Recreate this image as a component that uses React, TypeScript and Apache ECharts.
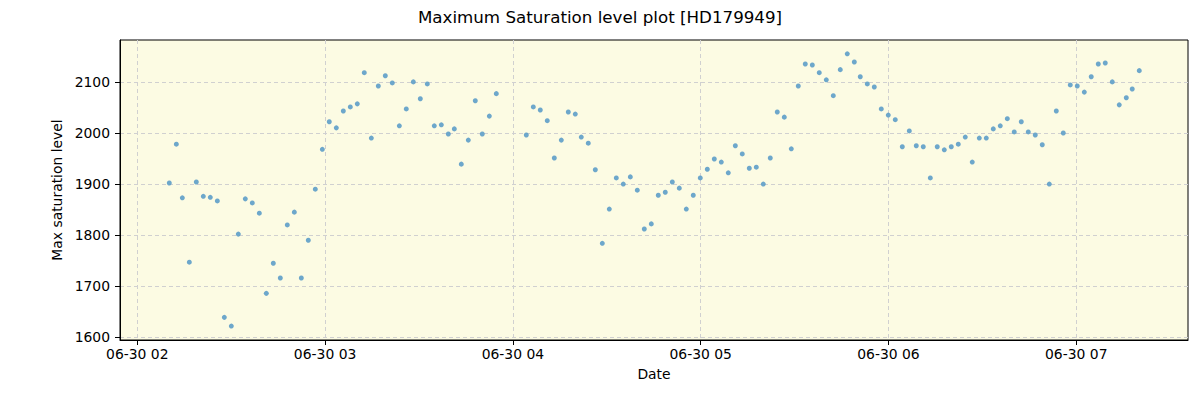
import React, { useEffect, useRef } from "react";
import * as echarts from "echarts";

const title = "Maximum Saturation level plot [HD179949]";
const dateLabel = "2021-06-30";

const times: string[] = [
  "02:10:13", "02:12:28", "02:14:23", "02:16:37", "02:18:51", "02:21:05", "02:23:19", "02:25:34",
  "02:27:48", "02:30:02", "02:32:16", "02:34:30", "02:36:44", "02:38:59", "02:41:13", "02:43:27",
  "02:45:41", "02:47:55", "02:50:10", "02:52:24", "02:54:38", "02:56:52", "02:59:07", "03:01:20",
  "03:03:35", "03:05:49", "03:08:03", "03:10:17", "03:12:31", "03:14:46", "03:17:00", "03:19:14",
  "03:21:28", "03:23:43", "03:25:56", "03:28:11", "03:30:25", "03:32:39", "03:34:53", "03:37:08",
  "03:39:22", "03:41:17", "03:43:31", "03:45:45", "03:47:59", "03:50:13", "03:52:28", "03:54:42",
  "04:04:17", "04:06:31", "04:08:45", "04:10:59", "04:13:14", "04:15:28", "04:17:42", "04:19:56",
  "04:21:51", "04:24:05", "04:26:20", "04:28:34", "04:30:48", "04:33:02", "04:35:16", "04:37:31",
  "04:39:45", "04:41:59", "04:44:13", "04:46:27", "04:48:41", "04:50:56", "04:53:10", "04:55:24",
  "04:57:38", "04:59:52", "05:02:07", "05:04:21", "05:06:35", "05:08:49", "05:11:04", "05:13:17",
  "05:15:32", "05:17:46", "05:20:00", "05:22:14", "05:24:28", "05:26:43", "05:28:57", "05:31:11",
  "05:33:25", "05:35:40", "05:37:53", "05:40:08", "05:42:22", "05:44:36", "05:46:50", "05:49:05",
  "05:50:59", "05:53:14", "05:55:28", "05:57:42", "05:59:56", "06:02:10", "06:04:25", "06:06:39",
  "06:08:53", "06:11:07", "06:13:22", "06:15:35", "06:17:50", "06:20:04", "06:22:18", "06:24:32",
  "06:26:46", "06:29:01", "06:31:15", "06:33:29", "06:35:43", "06:37:58", "06:40:11", "06:42:26",
  "06:44:40", "06:46:54", "06:49:08", "06:51:23", "06:53:37", "06:55:51", "06:58:05", "07:00:19",
  "07:02:34", "07:04:47", "07:07:02", "07:09:16", "07:11:30", "07:13:44", "07:15:59", "07:17:53",
  "07:20:08",
];

const saturation: number[] = [
  1902, 1978, 1873, 1747, 1904, 1876, 1874, 1867,
  1639, 1622, 1802, 1871, 1863, 1843, 1686, 1745,
  1716, 1820, 1845, 1716, 1790, 1890, 1968, 2022,
  2010, 2043, 2051, 2057, 2118, 1990, 2092, 2112,
  2098, 2014, 2047, 2100, 2067, 2096, 2014, 2016,
  1998, 2008, 1939, 1986, 2063, 1998, 2033, 2077,
  1996, 2051, 2045, 2024, 1951, 1986, 2041, 2037,
  1992, 1980, 1928, 1784, 1851, 1912, 1900, 1914,
  1888, 1812, 1822, 1878, 1884, 1904, 1892, 1851,
  1878, 1912, 1929, 1949, 1943, 1922, 1975, 1959,
  1931, 1933, 1900, 1951, 2041, 2031, 1969, 2092,
  2135, 2133, 2118, 2104, 2073, 2124, 2155, 2139,
  2110, 2096, 2090, 2047, 2035, 2026, 1973, 2004,
  1975, 1973, 1912, 1973, 1967, 1973, 1978, 1992,
  1943, 1990, 1990, 2008, 2014, 2028, 2002, 2022,
  2002, 1996, 1977, 1900, 2043, 2000, 2094, 2092,
  2080, 2110, 2135, 2137, 2100, 2055, 2069, 2086,
  2122,
];

const xStart = "01:54:28";
const xEnd = "07:35:42";
const xTickHours: string[] = ["02:00:00", "03:00:00", "04:00:00", "05:00:00", "06:00:00", "07:00:00"];
const yTicks: number[] = [1600, 1700, 1800, 1900, 2000, 2100];
const yMin = 1594.7;
const yMax = 2182;

const toMs = (t: string) => Date.parse(`${dateLabel}T${t}Z`);
const pad = (n: number) => String(n).padStart(2, "0");

export default function App() {
  const ref = useRef<HTMLDivElement>(null);
  useEffect(() => {
    if (!ref.current) return;
    const chart = echarts.init(ref.current, undefined, { renderer: "svg" });
    const font = "DejaVu Sans";
    const data = times.map((t, i) => [toMs(t), saturation[i]]);
    chart.setOption({
      animation: false,
      backgroundColor: "#ffffff",
      title: {
        text: title,
        left: "center",
        top: 3,
        textStyle: { fontFamily: font, fontSize: 16.7, fontWeight: "normal", color: "#000" },
      },
      grid: {
        left: 120,
        right: 12,
        top: 40,
        bottom: 60,
        show: true,
        backgroundColor: "#fcfbe3",
        borderColor: "#000",
        borderWidth: 1,
      },
      xAxis: {
        type: "value",
        min: toMs(xStart),
        max: toMs(xEnd),
        name: "Date",
        nameLocation: "middle",
        nameGap: 27,
        nameTextStyle: { fontFamily: font, fontSize: 13.9, color: "#000" },
        axisLine: { show: true, onZero: false, lineStyle: { color: "#000", width: 1 } },
        axisTick: {
          show: true,
          length: 5,
          lineStyle: { color: "#000" },
          customValues: xTickHours.map(toMs),
        },
        axisLabel: {
          fontFamily: font,
          fontSize: 13.9,
          color: "#000",
          margin: 7,
          customValues: xTickHours.map(toMs),
          formatter: (v: number) => {
            const d = new Date(v);
            return `${pad(d.getUTCMonth() + 1)}-${pad(d.getUTCDate())} ${pad(d.getUTCHours())}`;
          },
        },
        splitLine: { show: true, lineStyle: { color: "#d0d0d0", type: [4, 3], width: 1 } },
      },
      yAxis: {
        type: "value",
        min: yMin,
        max: yMax,
        name: "Max saturation level",
        nameLocation: "middle",
        nameGap: 48,
        nameTextStyle: { fontFamily: font, fontSize: 13.9, color: "#000" },
        axisLine: { show: true, onZero: false, lineStyle: { color: "#000", width: 1 } },
        axisTick: { show: true, length: 5, lineStyle: { color: "#000" }, customValues: yTicks },
        axisLabel: {
          fontFamily: font,
          fontSize: 13.9,
          color: "#000",
          margin: 10,
          customValues: yTicks,
          formatter: (v: number) => String(v),
        },
        splitLine: { show: true, lineStyle: { color: "#d0d0d0", type: [4, 3], width: 1 } },
      },
      series: [
        {
          type: "scatter",
          data,
          symbol: "circle",
          symbolSize: 5,
          itemStyle: { color: "#5d9dc8", opacity: 0.9 },
        },
      ],
    });
    return () => chart.dispose();
  }, []);
  return <div ref={ref} style={{ width: 1200, height: 400, position: "absolute", left: 0, top: 0 }} />;
}
